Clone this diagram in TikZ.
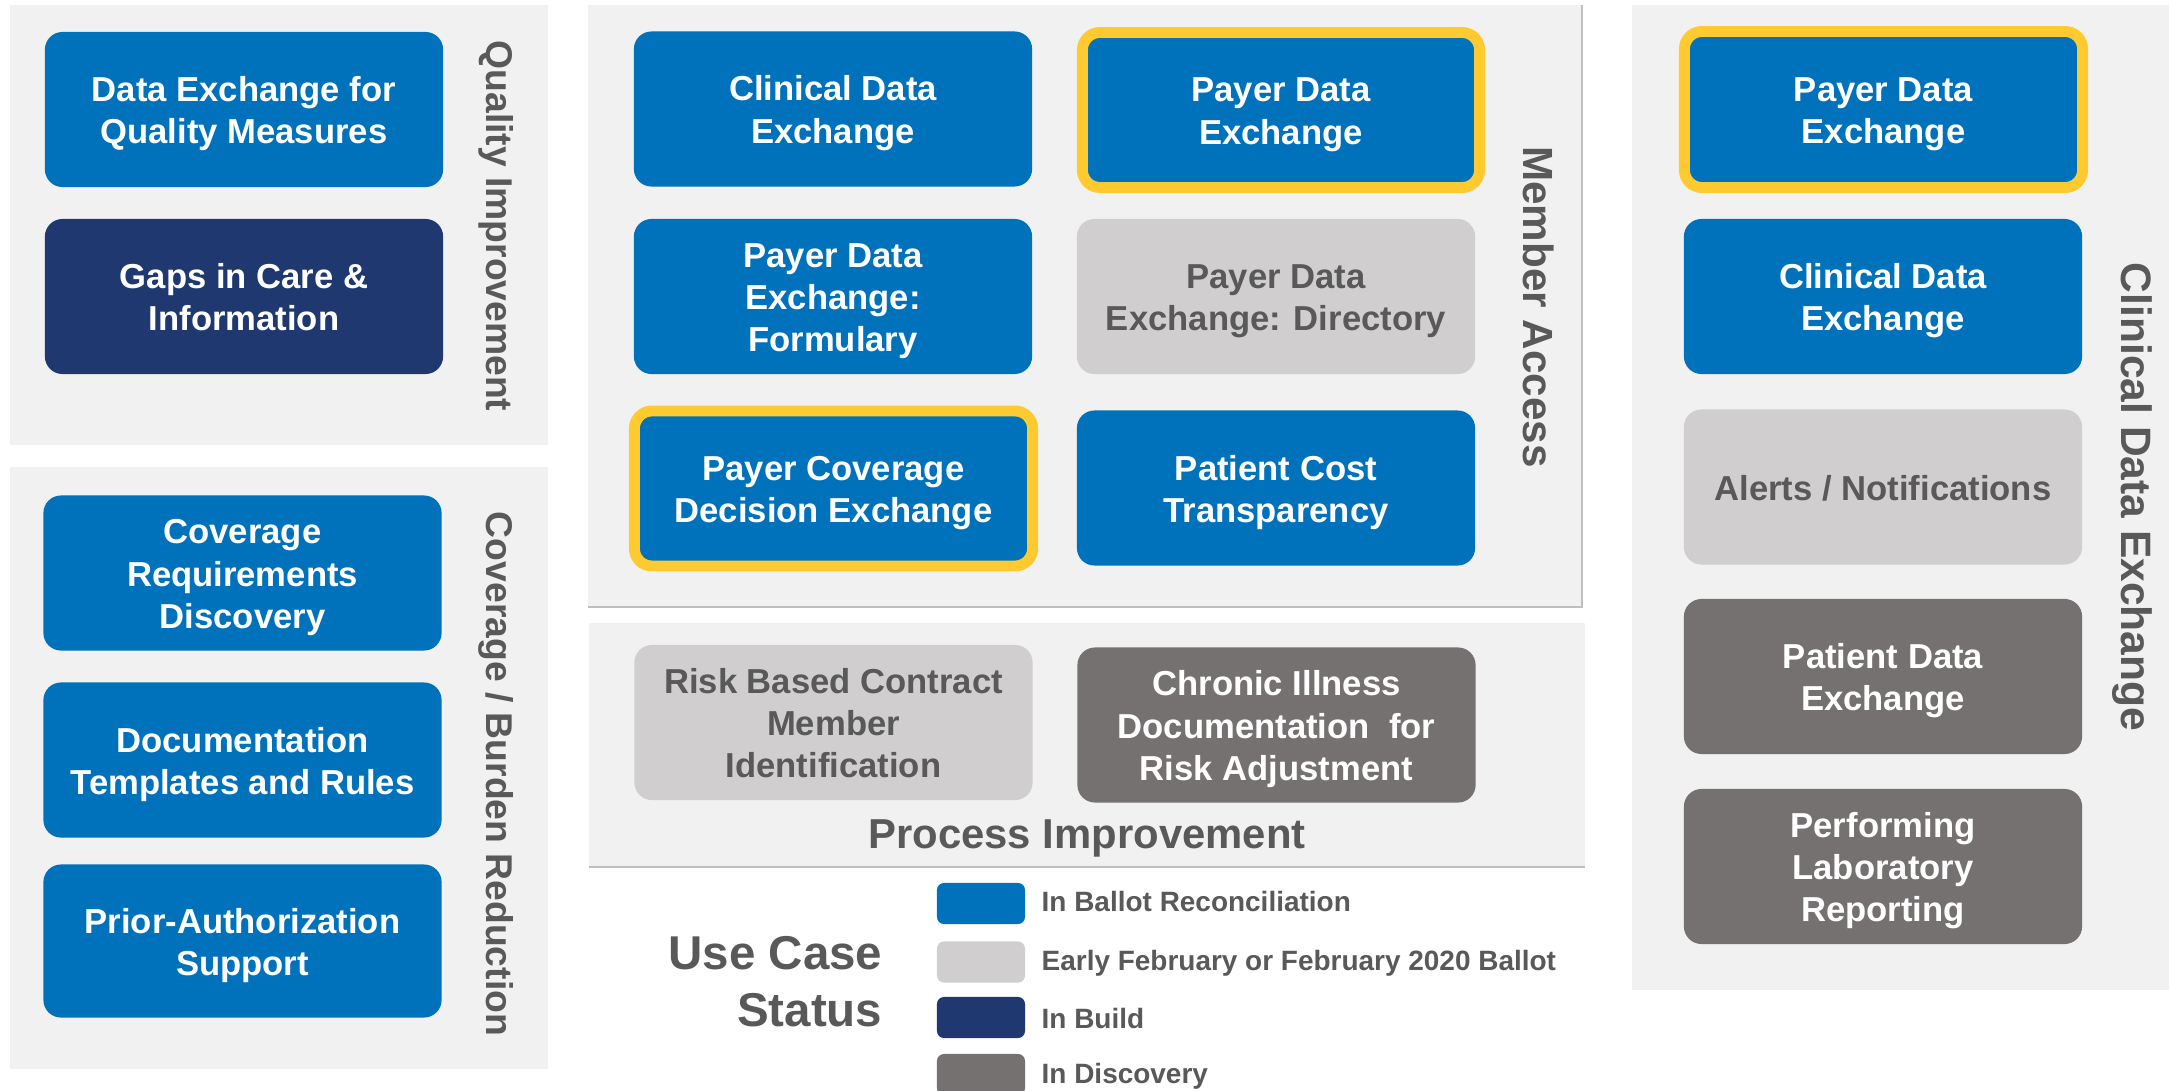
\documentclass[tikz,border=0pt]{standalone}
\usepackage{fontspec}
\setmainfont{Liberation Sans}
\definecolor{ublue}{HTML}{0072BB}
\definecolor{unavy}{HTML}{1F3870}
\definecolor{ulight}{HTML}{D0CECE}
\definecolor{udark}{HTML}{757171}
\definecolor{uyellow}{HTML}{FFCA30}
\definecolor{upanel}{HTML}{F1F1F1}
\definecolor{utext}{HTML}{595959}
\definecolor{uline}{HTML}{BFBFBF}
\newcommand{\ucTop}{\rule{0pt}{10.4pt}}
\newcommand{\ucBot}{\rule[-3pt]{0pt}{3pt}}
\tikzset{
  ucbox/.style={rounded corners=5pt, minimum width=3.98cm, minimum height=1.55cm,
    inner sep=0pt, align=center, font=\bfseries\fontsize{9.85}{11.95}\selectfont},
  bluebox/.style={ucbox, fill=ublue, text=white},
  navybox/.style={ucbox, fill=unavy, text=white},
  lightbox/.style={ucbox, fill=ulight, text=utext},
  darkbox/.style={ucbox, fill=udark, text=white},
  hilite/.style={draw=uyellow, line width=3.1pt},
  panelbg/.style={fill=upanel, draw=none},
  vlabel/.style={rotate=-90, text=utext, inner sep=0pt, font=\bfseries\fontsize{10.6}{12}\selectfont},
  legsq/.style={rounded corners=2pt, minimum width=0.88cm, minimum height=0.41cm, inner sep=0pt},
  legtxt/.style={anchor=base west, text=utext, inner sep=0pt, font=\bfseries\fontsize{7.95}{9.5}\selectfont},
}
\begin{document}
\begin{tikzpicture}[x=0.01cm, y=-0.01cm]
\useasboundingbox (0,0) rectangle (2169,1091);
% panels
\fill[panelbg] (10,5) rectangle (548,445);
\fill[panelbg] (10,467) rectangle (548,1069);
\fill[panelbg] (588,5) rectangle (1582,607);
\draw[uline, line width=0.6pt] (588,607) -- (1582,607) -- (1582,5);
\fill[panelbg] (589,623) rectangle (1585,867);
\draw[uline, line width=0.6pt] (589,867) -- (1585,867);
\fill[panelbg] (1632,5) rectangle (2169,990);

% Quality improvement
\node[bluebox] (dexq) at (244,109.5) {\ucTop Data Exchange for\\Quality Measures\ucBot};
\node[navybox] (gaps) at (244,296.5) {\ucTop Gaps in Care \&\\Information\ucBot};
\node[vlabel] (lqi) at (496,226) {Quality Improvement};

% Coverage / Burden reduction
\node[bluebox] (crd) at (242.5,573) {\ucTop Coverage\\Requirements\\Discovery\ucBot};
\node[bluebox] (dtr) at (242.5,760) {\ucTop Documentation\\Templates and Rules\ucBot};
\node[bluebox, minimum height=1.53cm] (pas) at (242.5,941) {\ucTop Prior-Authorization\\Support\ucBot};
\node[vlabel] (lcb) at (496,774) {Coverage / Burden Reduction};

% Member access
\node[bluebox] (cdx1) at (833,109) {\ucTop Clinical Data\\Exchange\ucBot};
\node[bluebox, hilite, minimum width=3.97cm] (pdx1) at (1281,110) {\ucTop Payer Data\\Exchange\ucBot};
\node[bluebox] (pdxf) at (833,296.5) {\ucTop Payer Data\\Exchange:\\Formulary\ucBot};
\node[lightbox] (pdxd) at (1276,296.5) {\ucTop Payer Data\\Exchange: Directory\ucBot};
\node[bluebox, hilite] (pcde) at (833.5,488.5) {\ucTop Payer Coverage\\Decision Exchange\ucBot};
\node[bluebox] (pct) at (1276,488) {\ucTop Patient Cost\\Transparency\ucBot};
\node[vlabel, font=\bfseries\fontsize{12}{14}\selectfont] (lma) at (1539,307) {Member Access};

% Process improvement
\node[lightbox] (rbc) at (833.5,722.5) {\ucTop Risk Based Contract\\Member\\Identification\ucBot};
\node[darkbox] (cid) at (1276.5,725) {\ucTop Chronic Illness\\Documentation\ \ for\\Risk Adjustment\ucBot};
\node[anchor=base, text=utext, inner sep=0pt, font=\bfseries\fontsize{11.9}{14}\selectfont] (lpi) at (1087,848) {Process Improvement};

% Clinical data exchange
\node[bluebox, hilite, minimum height=1.56cm] (pdx2) at (1883.5,109.5) {\ucTop Payer Data\\Exchange\ucBot};
\node[bluebox] (cdx2) at (1883,296.5) {\ucTop Clinical Data\\Exchange\ucBot};
\node[lightbox] (alr) at (1883,487) {\ucTop Alerts / Notifications\ucBot};
\node[darkbox] (ptx) at (1883,676.5) {\ucTop Patient Data\\Exchange\ucBot};
\node[darkbox] (plr) at (1883,866.5) {\ucTop Performing\\Laboratory\\Reporting\ucBot};
\node[vlabel, font=\bfseries\fontsize{12.1}{14}\selectfont] (lcd) at (2132,497) {Clinical Data Exchange};

% Legend
\node[anchor=east, align=right, text=utext, inner sep=0pt, font=\bfseries\fontsize{13.5}{16.2}\selectfont] (ucs) at (883,981.5) {Use Case\\Status};
\node[legsq, fill=ublue] (sq1) at (981,903.5) {};
\node[legsq, fill=ulight] (sq2) at (981,962) {};
\node[legsq, fill=unavy] (sq3) at (981,1017.5) {};
\node[legsq, fill=udark] (sq4) at (981,1074.5) {};
\node[legtxt] (t1) at (1041,911) {In Ballot Reconciliation};
\node[legtxt] (t2) at (1041,970) {Early February or February 2020 Ballot};
\node[legtxt] (t3) at (1041,1028) {In Build};
\node[legtxt] (t4) at (1041,1083) {In Discovery};
\end{tikzpicture}
\end{document}
